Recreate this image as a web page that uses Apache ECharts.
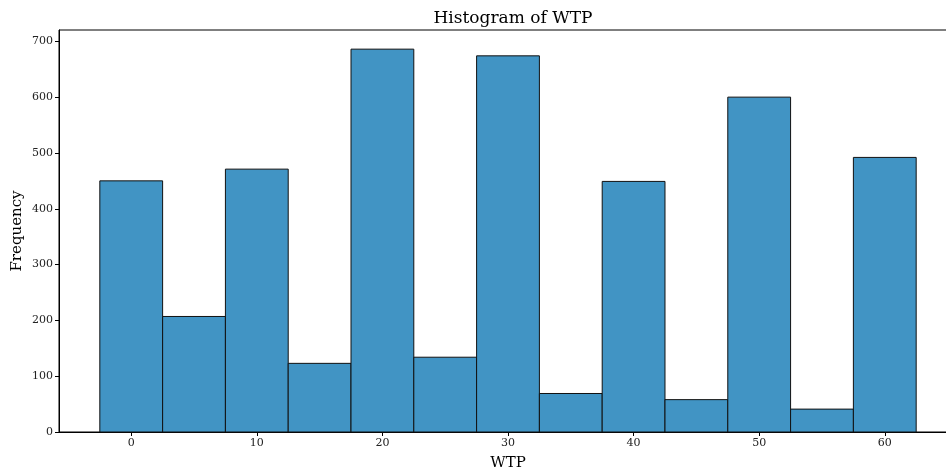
<!DOCTYPE html>
<html>
<head>
<meta charset="utf-8">
<script src="https://cdn.jsdelivr.net/npm/echarts@6/dist/echarts.min.js"></script>
<style>html,body{margin:0;padding:0;background:#fff}#c{width:946px;height:472px}</style>
</head>
<body>
<div id="c"></div>
<script>
var binCenters = [0, 5, 10, 15, 20, 25, 30, 35, 40, 45, 50, 55, 60];
var counts = [450, 207, 471, 123, 686, 134, 674, 69, 449, 58, 600, 41, 492];
var binWidth = 5;
var xTicks = [0, 10, 20, 30, 40, 50, 60];
var yTicks = [0, 100, 200, 300, 400, 500, 600, 700];

var FONT = '"DejaVu Serif", serif';
var data = binCenters.map(function (c, i) { return [c - binWidth / 2, c + binWidth / 2, counts[i]]; });

var chart = echarts.init(document.getElementById('c'), null, {renderer: 'canvas'});
chart.setOption({
  animation: false,
  backgroundColor: '#fff',
  title: {
    text: 'Histogram of WTP', left: 508, top: 5, textAlign: 'center',
    textStyle: {fontFamily: FONT, fontSize: 17, fontWeight: 'normal', color: '#000'}
  },
  grid: {left: 59, top: 30, width: 898, height: 402, containLabel: false, outerBoundsMode: 'none', show: true, borderColor: '#000', borderWidth: 1, backgroundColor: 'transparent'},
  xAxis: {
    type: 'value', min: -5.75, max: 65.75,
    name: 'WTP', nameLocation: 'middle', nameGap: 24, nameMoveOverlap: false,
    nameTextStyle: {fontFamily: FONT, fontSize: 15, color: '#000'},
    splitLine: {show: false},
    axisLine: {show: true, onZero: false, lineStyle: {color: '#000', width: 1}},
    axisTick: {show: true, length: 4, customValues: xTicks, lineStyle: {color: '#000'}},
    axisLabel: {customValues: xTicks, fontFamily: FONT, fontSize: 11, color: '#222', margin: 6}
  },
  yAxis: {
    type: 'value', min: 0, max: 720.3,
    name: 'Frequency', nameLocation: 'middle', nameGap: 34, nameRotate: 90, nameMoveOverlap: false,
    nameTextStyle: {fontFamily: FONT, fontSize: 15, color: '#000'},
    splitLine: {show: false},
    axisLine: {show: true, onZero: false, lineStyle: {color: '#000', width: 1}},
    axisTick: {show: true, length: 4, customValues: yTicks, lineStyle: {color: '#000'}},
    axisLabel: {customValues: yTicks, fontFamily: FONT, fontSize: 11, color: '#222', margin: 6}
  },
  series: [{
    type: 'custom',
    data: data,
    encode: {x: [0, 1], y: 2},
    renderItem: function (params, api) {
      var p0 = api.coord([api.value(0), api.value(2)]);
      var p1 = api.coord([api.value(1), 0]);
      return {
        type: 'rect',
        shape: {x: p0[0], y: p0[1], width: p1[0] - p0[0], height: p1[1] - p0[1]},
        style: {fill: 'rgb(65,148,196)', stroke: '#111', lineWidth: 1}
      };
    }
  }]
});
</script>
</body>
</html>
